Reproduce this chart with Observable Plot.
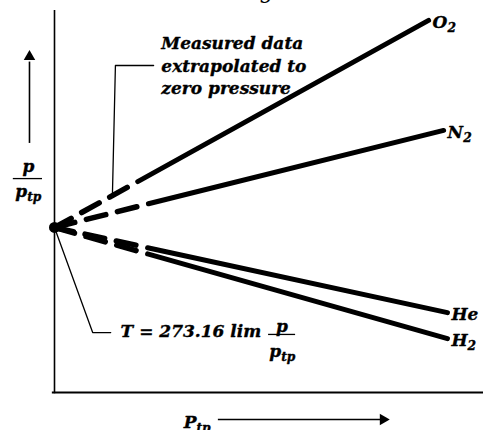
<!DOCTYPE html>
<html>
<head>
<meta charset="utf-8">
<script src="https://cdn.jsdelivr.net/npm/d3@7"></script>
<script src="https://cdn.jsdelivr.net/npm/@observablehq/plot@0.6"></script>
<style>
  html, body { margin: 0; padding: 0; background: #fff; }
  #chart svg { display: block; }
</style>
</head>
<body>
<div id="chart"></div>
<script>
// Gas thermometer: p/p_tp against p_tp, extrapolated to zero pressure.
// "_" in a label marks the start of a subscript.
const gases = ["O_2", "N_2", "He", "H_2"];
// first and last measured points of each gas (arbitrary units, 0–100)
const pStart = [19.4, 21.9, 21.7, 21.7];
const pEnd = [87.2, 90.7, 91.6, 91.6];
const ratioStart = [55.2, 49.4, 37.9, 36.3];
const ratioEnd = [97.4, 68.6, 20.9, 14.1];
// common limit at zero pressure
const intercept = 43.2;

const noteText = ["Measured data", "extrapolated to", "zero pressure"];
const formulaText = "T = 273.16 lim";
const axisLabelY = ["p", "p_tp"];
const axisLabelX = "P_tp";

const measured = gases.flatMap((g, i) => [
  {gas: g, p: pStart[i], r: ratioStart[i]},
  {gas: g, p: pEnd[i], r: ratioEnd[i]}
]);
// dashed part runs from the first measurement back to p = 0
const extrapolated = gases.flatMap((g, i) => [
  {gas: g, p: pStart[i], r: ratioStart[i]},
  {gas: g, p: 0, r: intercept}
]);
const ends = gases.map((g, i) => ({gas: g, p: pEnd[i], r: ratioEnd[i]}));

const font = {fontFamily: "DejaVu Serif", fontStyle: "italic", fontWeight: "bold",
  fill: "black", stroke: "black", strokeWidth: 0.35};

const plot = Plot.plot({
  width: 483,
  height: 430,
  marginLeft: 54,
  marginRight: 0,
  marginTop: 10,
  marginBottom: 38,
  x: {domain: [0, 100], axis: null},
  y: {domain: [0, 100], axis: null},
  style: {background: "white", overflow: "visible"},
  marks: [
    // axes
    Plot.ruleX([0], {y1: -0.3, y2: 100, strokeWidth: 1.6}),
    Plot.ruleY([0], {x1: -0.5, x2: 100, strokeWidth: 2}),
    // leader from the note to the O2 extrapolation
    Plot.line([{p: 23.1, r: 85.6}, {p: 14.2, r: 85.6}, {p: 13.5, r: 51.6}], {x: "p", y: "r", strokeWidth: 1.3}),
    // leader from the common point to the formula
    Plot.line([{p: 0, r: intercept}, {p: 8.9, r: 15.7}, {p: 13.1, r: 15.7}], {x: "p", y: "r", strokeWidth: 1.3}),
    // measured data
    Plot.line(measured, {x: "p", y: "r", z: "gas", stroke: "black", strokeWidth: 5}),
    // extrapolation to zero pressure
    Plot.line(extrapolated, {x: "p", y: "r", z: "gas", stroke: "black", strokeWidth: 5.5,
      strokeDasharray: "20,12", strokeDashoffset: 20}),
    Plot.dot([{p: 0, r: intercept}], {x: "p", y: "r", r: 5.5, fill: "black"}),
    // gas labels
    Plot.text(ends, {x: "p", y: "r", text: "gas", textAnchor: "start", dx: 4, dy: 2, fontSize: 17, ...font}),
    // note
    Plot.text([noteText.join("\n")], {x: 24.9, y: 94.0, lineAnchor: "top", textAnchor: "start",
      lineHeight: 1.32, fontSize: 17, ...font}),
    // formula
    Plot.text([formulaText], {x: 15.4, y: 16.0, textAnchor: "start", fontSize: 17, ...font}),
    Plot.text(["p"], {x: 53.0, y: 17.3, fontSize: 17, ...font}),
    Plot.ruleY([15.2], {x1: 49.9, x2: 56.2, strokeWidth: 1.3}),
    Plot.text(["p_tp"], {x: 53.1, y: 10.7, fontSize: 17, ...font}),
    // y axis label with arrow
    Plot.ruleX([-5.83], {y1: 65.2, y2: 86.5, strokeWidth: 1.6}),
    Plot.dot([{p: -5.83, r: 87.9}], {x: "p", y: "r", symbol: "triangle2", r: 5.5, fill: "black"}),
    Plot.text([axisLabelY[0]], {x: -6.1, y: 59.2, fontSize: 17, ...font}),
    Plot.ruleY([56.0], {x1: -9.6, x2: -2.8, strokeWidth: 1.3}),
    Plot.text([axisLabelY[1]], {x: -6.1, y: 52.6, fontSize: 17, ...font}),
    // x axis label with arrow
    Plot.text([axisLabelX], {x: 30.1, y: -7.85, textAnchor: "start", fontSize: 17, ...font}),
    Plot.ruleY([-7.07], {x1: 38.2, x2: 76.0, strokeWidth: 1.6}),
    Plot.dot([{p: 76.6, r: -7.07}], {x: "p", y: "r", symbol: "triangle2", rotate: 90, r: 5.5, fill: "black"}),
    // heading above the chart
    Plot.text(["g"], {x: 49.2, y: 105.0, fontSize: 22, fontFamily: "DejaVu Serif", fill: "black"})
  ]
});

// turn "X_sub" labels into a base and a lowered, smaller subscript
d3.select(plot).selectAll("text").each(function () {
  if (this.childElementCount > 0) return;
  const s = this.textContent;
  const k = s.indexOf("_");
  if (k < 0) return;
  const t = d3.select(this).text("");
  t.append("tspan").text(s.slice(0, k));
  t.append("tspan").attr("dy", "0.32em").attr("font-size", "72%").text(s.slice(k + 1));
});

document.getElementById("chart").appendChild(plot);
</script>
</body>
</html>
